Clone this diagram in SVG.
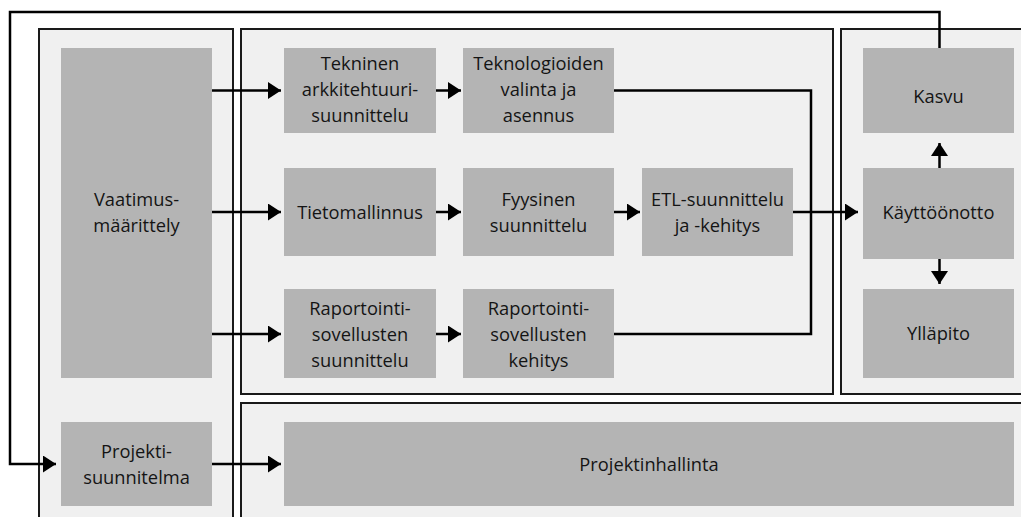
<svg xmlns="http://www.w3.org/2000/svg" width="1021" height="517" viewBox="0 0 1021 517">
  <style>
    .box { fill: #f0f0f0; stroke: #1a1a1a; stroke-width: 2; }
    .node { fill: #b4b4b4; }
    .lbl { font-family: "Open Sans", "Liberation Sans", sans-serif; font-size: 18.3px; fill: #141414; text-anchor: middle; }
    .wire { fill: none; stroke: #000; stroke-width: 2.5; }
  </style>
  <defs>
    <marker id="head" viewBox="0 0 13 17" refX="13" refY="8.5" markerWidth="13" markerHeight="17" markerUnits="userSpaceOnUse" orient="auto">
      <path d="M0,0 L13,8.5 L0,17 Z" fill="#000"/>
    </marker>
  </defs>
  <rect width="1021" height="517" fill="#ffffff"/>

  <!-- phase containers -->
  <g id="containers">
    <rect class="box" x="39" y="29" width="194" height="500"/>
    <rect class="box" x="241" y="29" width="592" height="365"/>
    <rect class="box" x="841" y="29" width="190" height="365"/>
    <rect class="box" x="241" y="403" width="790" height="130"/>
  </g>

  <g id="vaatimus">
    <rect class="node" x="61" y="48" width="151" height="330"/>
    <text class="lbl"><tspan x="136.5" y="206">Vaatimus-</tspan><tspan x="136.5" y="232">määrittely</tspan></text>
  </g>
  <g id="tekninen">
    <rect class="node" x="284" y="48" width="152" height="85"/>
    <text class="lbl"><tspan x="360" y="70">Tekninen</tspan><tspan x="360" y="96">arkkitehtuuri-</tspan><tspan x="360" y="122">suunnittelu</tspan></text>
  </g>
  <g id="teknologiat">
    <rect class="node" x="463" y="48" width="151" height="85"/>
    <text class="lbl"><tspan x="538.5" y="70">Teknologioiden</tspan><tspan x="538.5" y="96">valinta ja</tspan><tspan x="538.5" y="122">asennus</tspan></text>
  </g>
  <g id="tietomallinnus">
    <rect class="node" x="284" y="168" width="152" height="88"/>
    <text class="lbl" x="360" y="219">Tietomallinnus</text>
  </g>
  <g id="fyysinen">
    <rect class="node" x="463" y="168" width="151" height="88"/>
    <text class="lbl"><tspan x="538.5" y="206">Fyysinen</tspan><tspan x="538.5" y="232">suunnittelu</tspan></text>
  </g>
  <g id="etl">
    <rect class="node" x="642" y="168" width="151" height="88"/>
    <text class="lbl"><tspan x="717.5" y="206">ETL-suunnittelu</tspan><tspan x="717.5" y="232">ja -kehitys</tspan></text>
  </g>
  <g id="raportointi-suunnittelu">
    <rect class="node" x="284" y="289" width="152" height="89"/>
    <text class="lbl"><tspan x="360" y="315">Raportointi-</tspan><tspan x="360" y="341">sovellusten</tspan><tspan x="360" y="367">suunnittelu</tspan></text>
  </g>
  <g id="raportointi-kehitys">
    <rect class="node" x="463" y="289" width="151" height="89"/>
    <text class="lbl"><tspan x="538.5" y="315">Raportointi-</tspan><tspan x="538.5" y="341">sovellusten</tspan><tspan x="538.5" y="367">kehitys</tspan></text>
  </g>
  <g id="kasvu">
    <rect class="node" x="863" y="48" width="151" height="85"/>
    <text class="lbl" x="938.5" y="103">Kasvu</text>
  </g>
  <g id="kayttoonotto">
    <rect class="node" x="863" y="168" width="151" height="91"/>
    <text class="lbl" x="938.5" y="219">Käyttöönotto</text>
  </g>
  <g id="yllapito">
    <rect class="node" x="863" y="289" width="151" height="89"/>
    <text class="lbl" x="938.5" y="340">Ylläpito</text>
  </g>
  <g id="projektisuunnitelma">
    <rect class="node" x="61" y="422" width="151" height="84"/>
    <text class="lbl"><tspan x="136.5" y="458">Projekti-</tspan><tspan x="136.5" y="484">suunnitelma</tspan></text>
  </g>
  <g id="projektinhallinta">
    <rect class="node" x="284" y="422" width="730" height="84"/>
    <text class="lbl" x="649" y="471">Projektinhallinta</text>
  </g>

  <!-- connectors -->
  <g id="connectors">
    <path class="wire" d="M212,90.5 H281" marker-end="url(#head)"/>
    <path class="wire" d="M212,212 H281" marker-end="url(#head)"/>
    <path class="wire" d="M212,334 H281" marker-end="url(#head)"/>
    <path class="wire" d="M436,90.5 H461" marker-end="url(#head)"/>
    <path class="wire" d="M436,212 H461" marker-end="url(#head)"/>
    <path class="wire" d="M614,212 H640" marker-end="url(#head)"/>
    <path class="wire" d="M436,334 H461" marker-end="url(#head)"/>
    <path class="wire" d="M614,90.5 H811 V334 H614"/>
    <path class="wire" d="M793,212 H858" marker-end="url(#head)"/>
    <path class="wire" d="M939.5,168 V143" marker-end="url(#head)"/>
    <path class="wire" d="M939.5,259 V284" marker-end="url(#head)"/>
    <path class="wire" d="M939.5,48 V12 H10 V464 H56" marker-end="url(#head)"/>
    <path class="wire" d="M212,464 H281" marker-end="url(#head)"/>
  </g>
</svg>
